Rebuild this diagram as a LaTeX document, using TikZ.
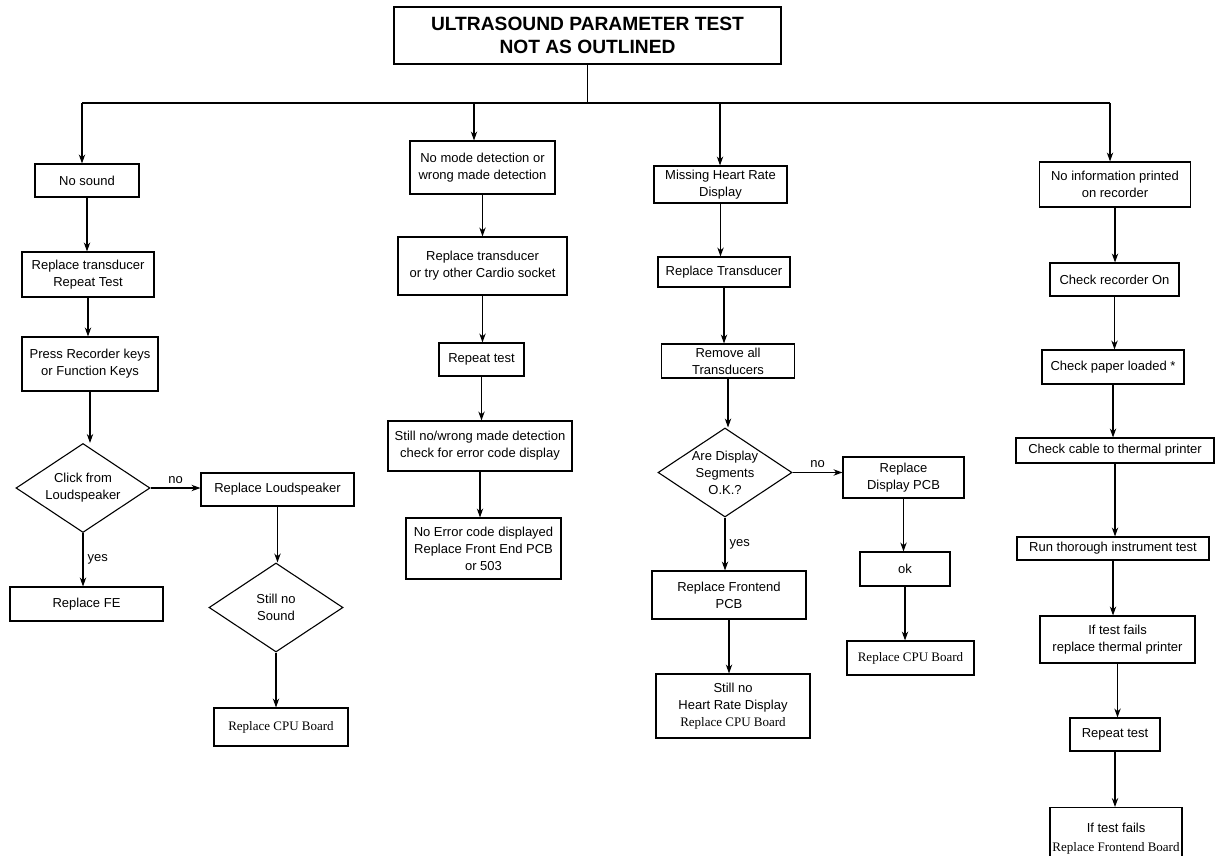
\documentclass[tikz,border=0pt]{standalone}
\usepackage{fontspec}
\setmainfont{Liberation Sans}
\newfontfamily\timesface{Liberation Serif}
\usetikzlibrary{
  arrows.meta,
  positioning,
  shapes.geometric
}

\begin{document}
\begin{tikzpicture}[
  x=0.5pt, y=-0.5pt,
  font=\fontsize{6.5}{8.5}\selectfont,
  stepbox/.style={draw, line width=0.55pt, align=center, inner sep=1pt},
  heading/.style={draw, line width=1.1pt, align=center,
    font=\fontsize{9.6}{11.5}\selectfont\bfseries},
  decision/.style={draw, diamond, line width=0.55pt, inner sep=0pt,
    minimum width=67pt, minimum height=44.5pt},
  question/.style={align=center, inner sep=0pt},
  arrow/.style={-{Stealth[length=4.5pt,width=3.2pt]}, line width=0.55pt},
  answer/.style={inner sep=2pt},
]
\useasboundingbox (0,0) rectangle (1218,855);

% Title and branch bar
\node[heading, minimum width=193.5pt, minimum height=28.5pt] (title) at (587.5,35.5)
  {ULTRASOUND PARAMETER TEST\\NOT AS OUTLINED};
\coordinate (d1) at (82,103);
\coordinate (d2) at (474,103);
\coordinate (d3) at (720,103);
\coordinate (d4) at (1110,103);
\draw[line width=0.55pt] (title) -- (title |- d1);
\draw[line width=0.55pt] (d1) -- (d4);

% No sound
\node[stepbox, minimum width=52pt, minimum height=16.5pt] (nosound) at (87,180.5) {No sound};
\node[stepbox, minimum width=66pt, minimum height=22.5pt] (repltrans) at (88,274.5)
  {Replace transducer\\Repeat Test};
\node[stepbox, minimum width=68pt, minimum height=27pt] (presskeys) at (90,364)
  {Press Recorder keys\\or Function Keys};
\node[decision] (click) at (83,488) {};
\node[question] at (click) {Click from\\Loudspeaker};
\node[stepbox, minimum width=76.5pt, minimum height=17pt] (replfe) at (86.5,604) {Replace FE};
\node[stepbox, minimum width=76.5pt, minimum height=16.5pt] (replspk) at (277.5,489.5)
  {Replace Loudspeaker};
\node[decision] (stillsound) at (276,607.5) {};
\node[question] at (stillsound) {Still no\\Sound};
\node[stepbox, minimum width=67pt, minimum height=19pt] (cpuone) at (281,727)
  {\timesface Replace CPU Board};

\draw[arrow] (d1) -- (d1 |- nosound.north);
\draw[arrow] (nosound) -- (nosound |- repltrans.north);
\draw[arrow] (repltrans) -- (repltrans |- presskeys.north);
\draw[arrow] (presskeys) -- (presskeys |- click.north);
\draw[arrow] (click.east) -- node[answer, above] {no} (click -| replspk.west);
\draw[arrow] (click.south) -- node[answer, right] {yes} (click |- replfe.north);
\draw[arrow] (replspk) -- (replspk |- stillsound.north);
\draw[arrow] (stillsound.south) -- (stillsound |- cpuone.north);

% Mode detection
\node[stepbox, minimum width=72.5pt, minimum height=26.5pt] (nomode) at (482.5,167.5)
  {No mode detection or\\wrong made detection};
\node[stepbox, minimum width=84.5pt, minimum height=29pt] (socket) at (482.5,266)
  {Replace transducer\\or try other Cardio socket};
\node[stepbox, minimum width=42.5pt, minimum height=16.5pt] (repeatmode) at (481.5,359.5)
  {Repeat test};
\node[stepbox, minimum width=92pt, minimum height=25pt] (errcheck) at (480,446)
  {Still no/wrong made detection\\check for error code display};
\node[stepbox, minimum width=77.5pt, minimum height=30.5pt] (noerror) at (483.5,548.5)
  {No Error code displayed\\Replace Front End PCB\\or 503};

\draw[arrow] (d2) -- (d2 |- nomode.north);
\draw[arrow] (nomode) -- (nomode |- socket.north);
\draw[arrow] (socket) -- (socket |- repeatmode.north);
\draw[arrow] (repeatmode) -- (repeatmode |- errcheck.north);
\draw[arrow] (errcheck) -- (errcheck |- noerror.north);

% Heart rate display
\node[stepbox, minimum width=66.5pt, minimum height=18.5pt] (missinghr) at (720.5,184.5)
  {Missing Heart Rate\\Display};
\node[stepbox, minimum width=66pt, minimum height=15pt] (repltransd) at (724,272)
  {Replace Transducer};
\node[stepbox, minimum width=66.5pt, minimum height=17pt] (removeall) at (728,361)
  {Remove all\\Transducers};
\node[decision] (segments) at (725,472.5) {};
\node[question] at (segments) {Are Display\\Segments\\O.K.?};
\node[stepbox, minimum width=60.5pt, minimum height=20.5pt] (disppcb) at (903.5,477.5)
  {Replace\\Display PCB};
\node[stepbox, minimum width=45pt, minimum height=17pt] (okbox) at (905,569) {ok};
\node[stepbox, minimum width=63.5pt, minimum height=17pt] (cputhree) at (910.5,658)
  {\timesface Replace CPU Board};
\node[stepbox, minimum width=77pt, minimum height=24pt] (frontpcb) at (729,595)
  {Replace Frontend\\PCB};
\node[stepbox, minimum width=77pt, minimum height=32pt] (stillhr) at (733,706)
  {Still no\\Heart Rate Display\\{\timesface Replace CPU Board}};

\draw[arrow] (d3) -- (d3 |- missinghr.north);
\draw[arrow] (missinghr) -- (missinghr |- repltransd.north);
\draw[arrow] (repltransd) -- (repltransd |- removeall.north);
\draw[arrow] (removeall) -- (removeall |- segments.north);
\draw[arrow] (segments.east) -- node[answer, above] {no} (segments -| disppcb.west);
\draw[arrow] (segments.south) -- node[answer, right] {yes} (segments |- frontpcb.north);
\draw[arrow] (disppcb) -- (disppcb |- okbox.north);
\draw[arrow] (okbox) -- (okbox |- cputhree.north);
\draw[arrow] (frontpcb) -- (frontpcb |- stillhr.north);

% Recorder
\node[stepbox, minimum width=75.5pt, minimum height=22.5pt] (noinfo) at (1115,184.5)
  {No information printed\\on recorder};
\node[stepbox, minimum width=64.5pt, minimum height=16.5pt] (recorderon) at (1114.5,279.5)
  {Check recorder On};
\node[stepbox, minimum width=71pt, minimum height=17pt] (paper) at (1113,367)
  {Check paper loaded *};
\node[stepbox, minimum width=99pt, minimum height=12.5pt] (cable) at (1115,450.5)
  {Check cable to thermal printer};
\node[stepbox, minimum width=96pt, minimum height=11.5pt] (runtest) at (1113,548.5)
  {Run thorough instrument test};
\node[stepbox, minimum width=77.5pt, minimum height=23.5pt] (printerfail) at (1117.5,639.5)
  {If test fails\\replace thermal printer};
\node[stepbox, minimum width=45pt, minimum height=16.5pt] (repeatrec) at (1115,734.5)
  {Repeat test};
\node[stepbox, minimum width=66pt, minimum height=31pt, anchor=north] (boardfail) at (1116,807)
  {If test fails\\[1pt]{\timesface Replace Frontend Board}};

\draw[arrow] (d4) -- (d4 |- noinfo.north);
\draw[arrow] (noinfo) -- (noinfo |- recorderon.north);
\draw[arrow] (recorderon) -- (recorderon |- paper.north);
\draw[arrow] (paper) -- (paper |- cable.north);
\draw[arrow] (cable) -- (cable |- runtest.north);
\draw[arrow] (runtest) -- (runtest |- printerfail.north);
\draw[arrow] (printerfail) -- (printerfail |- repeatrec.north);
\draw[arrow] (repeatrec) -- (repeatrec |- boardfail.north);

\end{tikzpicture}
\end{document}
